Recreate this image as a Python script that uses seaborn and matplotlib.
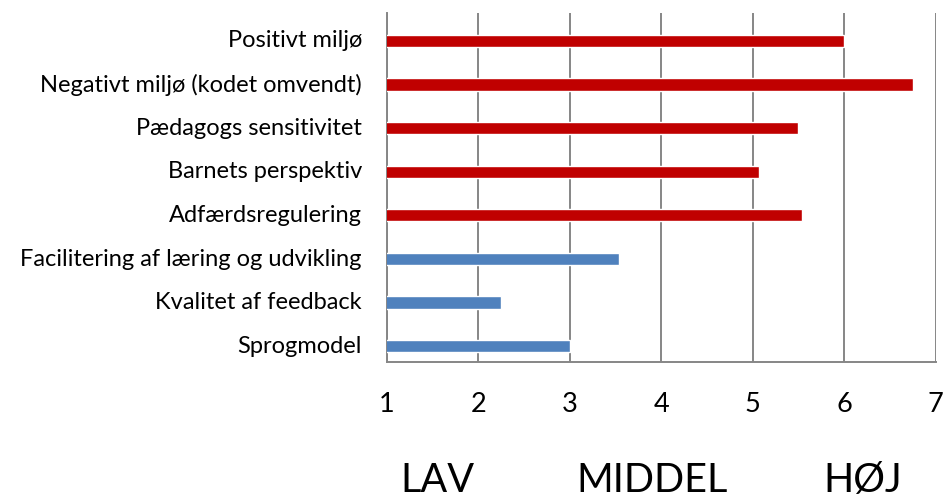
import matplotlib
matplotlib.use("Agg")
import matplotlib.pyplot as plt
import matplotlib.transforms as mtransforms
import seaborn as sns
import pandas as pd
import numpy as np
from matplotlib.ticker import FixedLocator

categories = ["Positivt miljø", "Negativt miljø (kodet omvendt)", "Pædagogs sensitivitet",
              "Barnets perspektiv", "Adfærdsregulering", "Facilitering af læring og udvikling",
              "Kvalitet af feedback", "Sprogmodel"]
values = [6.0, 6.75, 5.5, 5.07, 5.54, 3.54, 2.25, 3.0]
groups = ["emo", "emo", "emo", "emo", "emo", "inst", "inst", "inst"]
x_ticks = [1, 2, 3, 4, 5, 6, 7]
level_labels = ["LAV", "MIDDEL", "HØJ"]
level_pos = [1.55, 3.9, 6.2]

sns.set_theme(style="white")
plt.rcParams['font.family'] = ['Lato', 'DejaVu Sans']

idx = np.arange(len(categories))
bar_offset = 0.145   # Excel cluster slot offset
df = pd.DataFrame({"pos": idx + bar_offset, "val": values, "grp": groups})

fig = plt.figure(figsize=(9.46, 5.0), dpi=100)
ax = fig.add_axes([0.409, 0.2766, 0.580, 0.698])
sns.barplot(data=df, x="val", y="pos", hue="grp", orient="h", dodge=False, native_scale=True,
            palette={"emo": "#C00000", "inst": "#4F81BD"}, width=0.28, saturation=1,
            legend=False, ax=ax, zorder=3)
ax.set_xlim(1, 7)
ax.set_ylim(len(categories) - 0.5, -0.5)
ax.set_xticks(x_ticks)
ax.set_xticklabels([str(t) for t in x_ticks], fontsize=19.5, color="black")
ax.set_yticks(idx + 0.1)
ax.set_yticklabels(categories)
ax.set_xlabel("")
ax.set_ylabel("")
ax.grid(axis="x", color="#868686", linewidth=1.4, zorder=0)
ax.grid(axis="y", visible=False)
for s in ["top", "right"]:
    ax.spines[s].set_visible(False)
for s in ["left", "bottom"]:
    ax.spines[s].set_color("#868686")
    ax.spines[s].set_linewidth(1.4)
ax.set_axisbelow(True)
ax.tick_params(axis="y", which="major", length=0, labelsize=17, pad=18, labelcolor="black")
ax.yaxis.set_minor_locator(FixedLocator(np.arange(-0.5, len(categories), 1.0)))
ax.tick_params(axis="y", which="minor", length=6, width=1.4, color="#868686", direction="out")
ax.tick_params(axis="x", which="major", length=7, width=1.4, color="#868686", direction="out", pad=15)

trans = mtransforms.blended_transform_factory(ax.transData, fig.transFigure)
for lbl, pos in zip(level_labels, level_pos):
    ax.text(pos, 0.002, lbl, transform=trans, ha="center", va="bottom",
            fontsize=28.5, color="black")

fig.savefig("out.png", dpi=100)
